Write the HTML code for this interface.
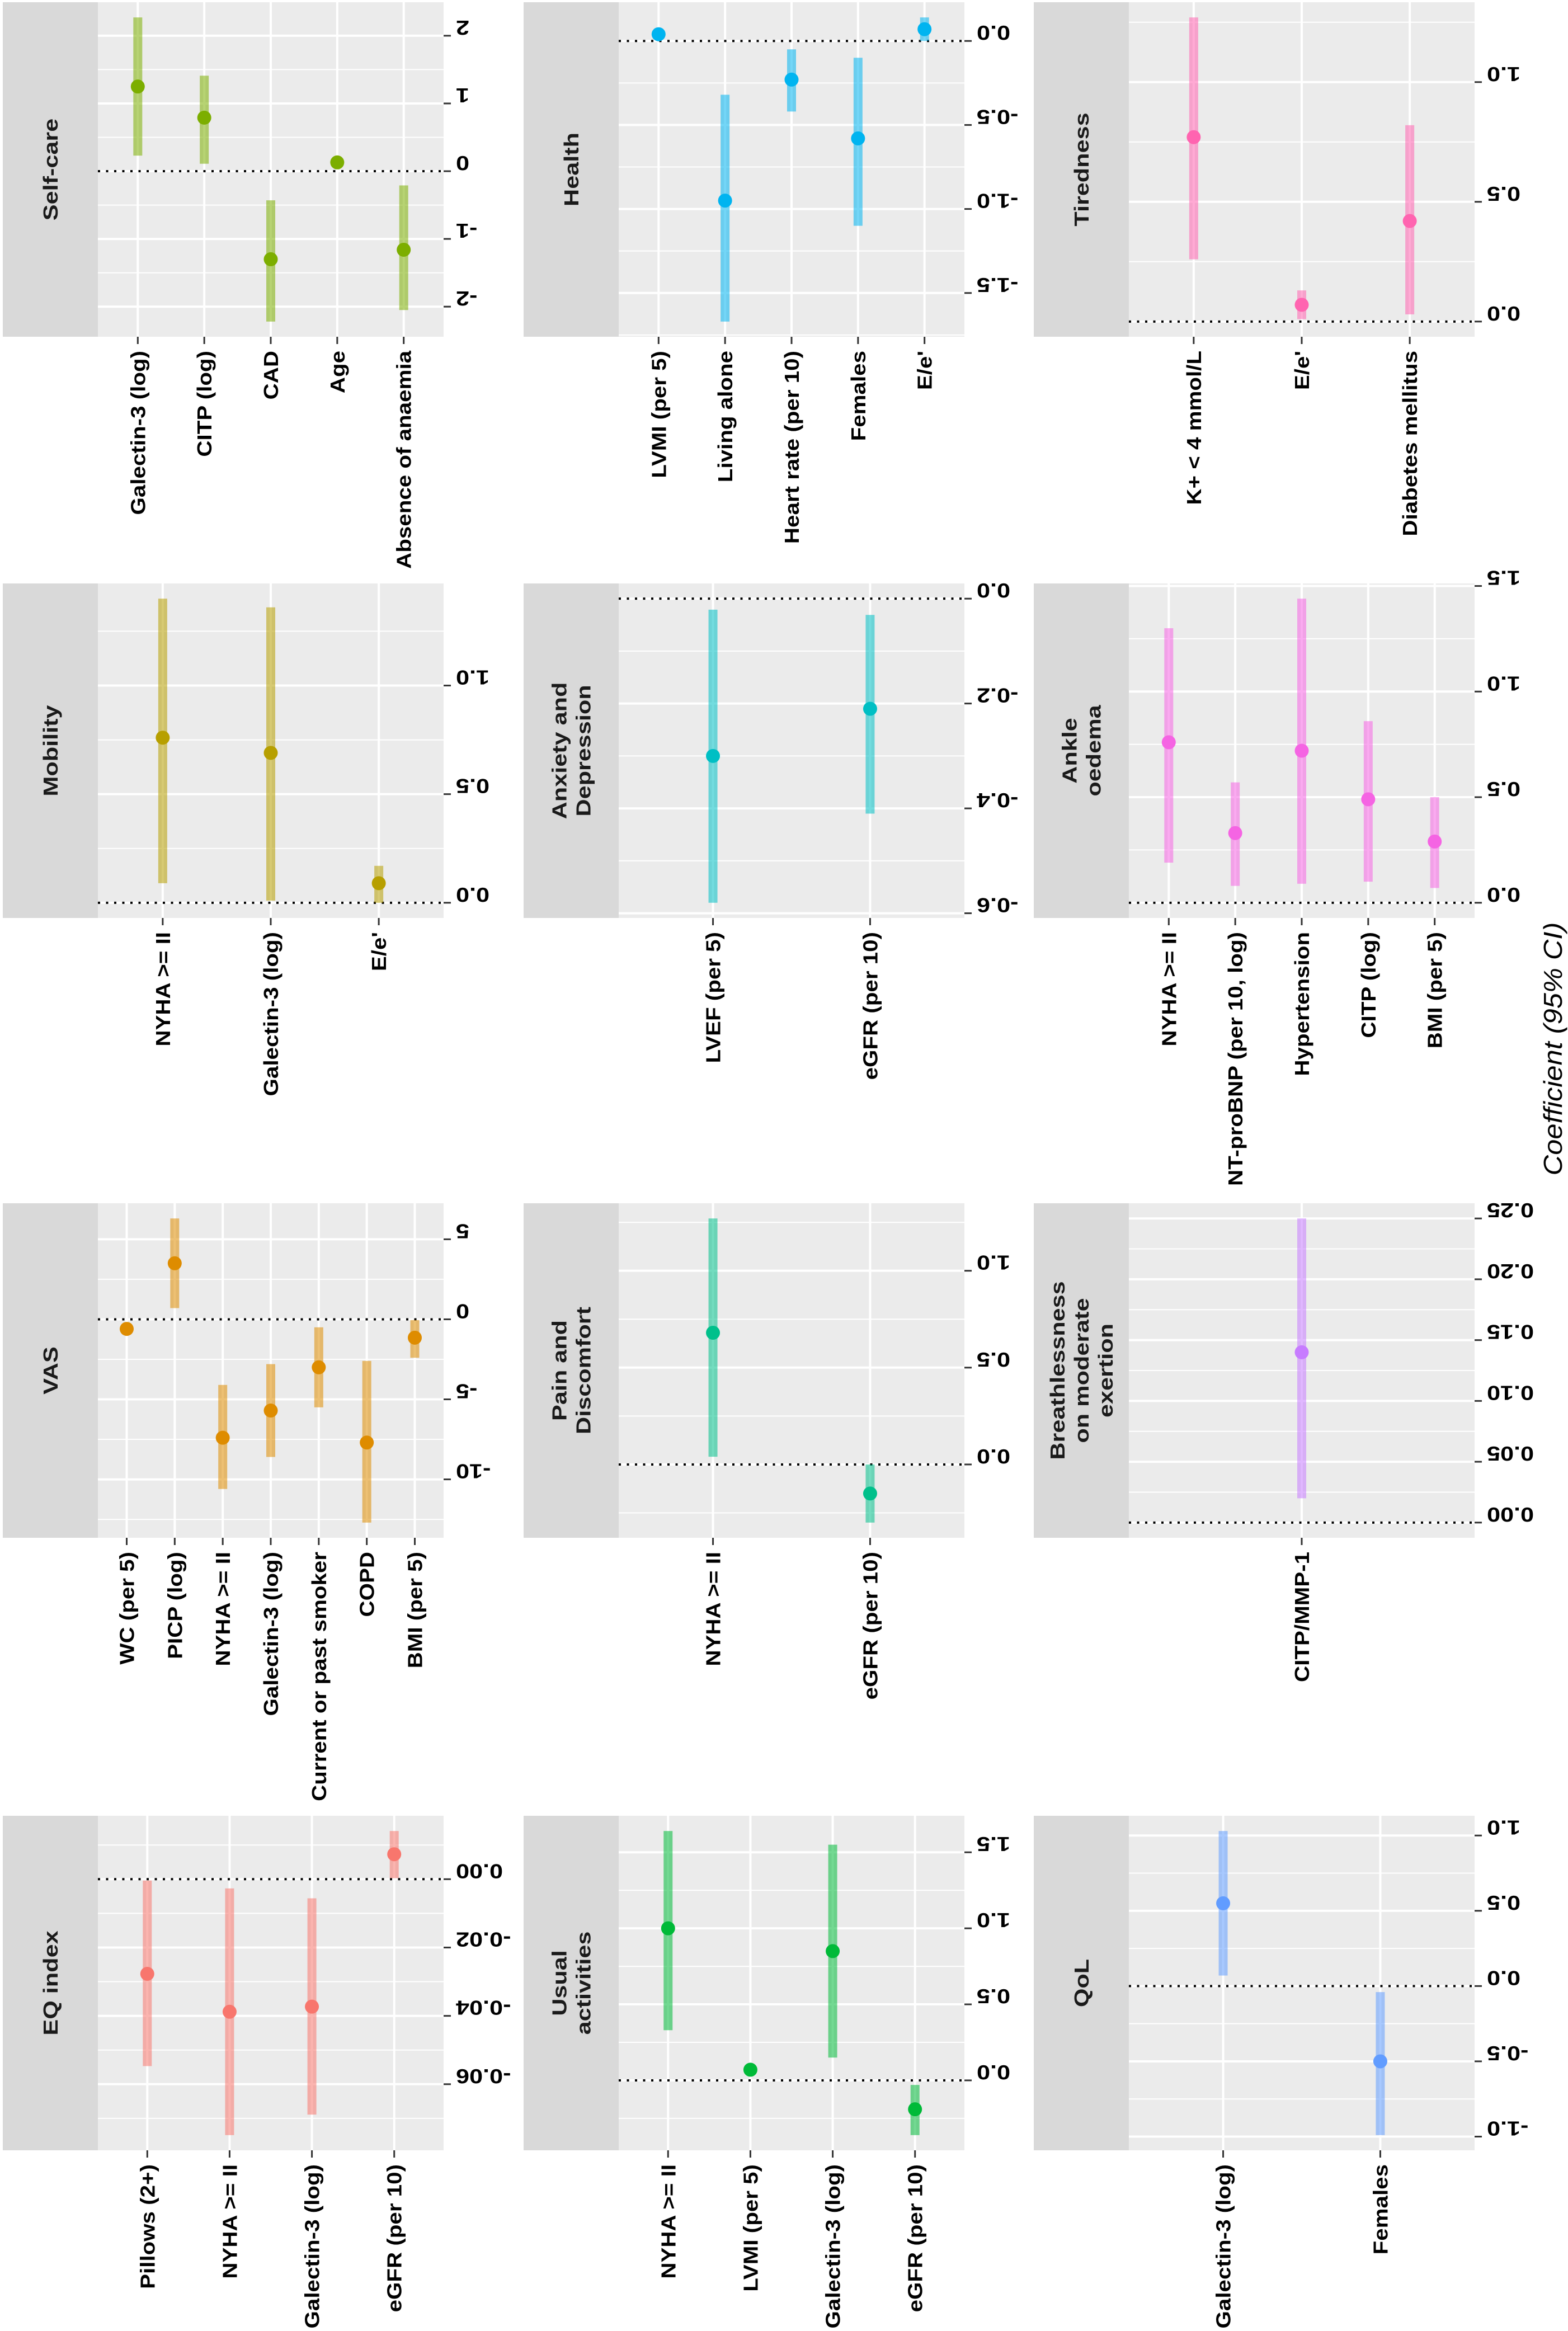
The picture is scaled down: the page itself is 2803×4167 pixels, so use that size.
<!DOCTYPE html>
<html><head><meta charset="utf-8"><title>Coefficient forest plots</title>
<style>
html,body{margin:0;padding:0;background:#fff;}
svg{display:block;}
text{font-family:"Liberation Sans",Arial,sans-serif;}
</style></head>
<body>
<svg id="chart" xmlns="http://www.w3.org/2000/svg" width="2803" height="4167" viewBox="0 0 2803 4167">
<rect x="0" y="0" width="2803" height="4167" fill="#ffffff"/>
<text x="0" y="0" transform="translate(2792 1875) rotate(-90) scale(1.1 1)" text-anchor="middle" font-size="46" font-style="italic" fill="#000">Coefficient (95% CI)</text>
</svg>
<script>
// ---- data arrays ----
const selfCareCats = ["Galectin-3 (log)","CITP (log)","CAD","Age","Absence of anaemia"];
const selfCareEst = [1.25, 0.79, -1.30, 0.13, -1.16];
const selfCareLo = [0.23, 0.11, -2.22, 0.10, -2.05];
const selfCareHi = [2.27, 1.41, -0.43, 0.16, -0.21];
const selfCareTicks = [-2, -1, 0, 1, 2];
const selfCareTickLabels = ["-2","-1","0","1","2"];

const healthCats = ["LVMI (per 5)","Living alone","Heart rate (per 10)","Females","E/e'"];
const healthEst = [0.04, -0.95, -0.23, -0.58, 0.07];
const healthLo = [0.02, -1.67, -0.42, -1.10, 0.0];
const healthHi = [0.06, -0.32, -0.05, -0.10, 0.14];
const healthTicks = [-1.5, -1.0, -0.5, 0.0];
const healthTickLabels = ["-1.5","-1.0","-0.5","0.0"];

const tirednessCats = ["K+ < 4 mmol/L","E/e'","Diabetes mellitus"];
const tirednessEst = [0.77, 0.07, 0.42];
const tirednessLo = [0.26, 0.01, 0.03];
const tirednessHi = [1.27, 0.13, 0.82];
const tirednessTicks = [0.0, 0.5, 1.0];
const tirednessTickLabels = ["0.0","0.5","1.0"];

const mobilityCats = ["NYHA >= II","Galectin-3 (log)","E/e'"];
const mobilityEst = [0.76, 0.69, 0.09];
const mobilityLo = [0.09, 0.01, 0.0];
const mobilityHi = [1.40, 1.36, 0.17];
const mobilityTicks = [0.0, 0.5, 1.0];
const mobilityTickLabels = ["0.0","0.5","1.0"];

const anxietyCats = ["LVEF (per 5)","eGFR (per 10)"];
const anxietyEst = [-0.30, -0.21];
const anxietyLo = [-0.58, -0.41];
const anxietyHi = [-0.021, -0.031];
const anxietyTicks = [-0.6, -0.4, -0.2, 0.0];
const anxietyTickLabels = ["-0.6","-0.4","-0.2","0.0"];

const ankleCats = ["NYHA >= II","NT-proBNP (per 10, log)","Hypertension","CITP (log)","BMI (per 5)"];
const ankleEst = [0.76, 0.33, 0.72, 0.49, 0.29];
const ankleLo = [0.19, 0.08, 0.09, 0.10, 0.07];
const ankleHi = [1.30, 0.57, 1.44, 0.86, 0.50];
const ankleTicks = [0.0, 0.5, 1.0, 1.5];
const ankleTickLabels = ["0.0","0.5","1.0","1.5"];

const vasCats = ["WC (per 5)","PICP (log)","NYHA >= II","Galectin-3 (log)","Current or past smoker","COPD","BMI (per 5)"];
const vasEst = [-0.6, 3.5, -7.4, -5.7, -3.0, -7.7, -1.15];
const vasLo = [-0.8, 0.7, -10.6, -8.6, -5.5, -12.7, -2.4];
const vasHi = [-0.4, 6.3, -4.1, -2.8, -0.5, -2.6, -0.05];
const vasTicks = [-10, -5, 0, 5];
const vasTickLabels = ["-10","-5","0","5"];

const painCats = ["NYHA >= II","eGFR (per 10)"];
const painEst = [0.68, -0.15];
const painLo = [0.04, -0.30];
const painHi = [1.27, 0.0];
const painTicks = [0.0, 0.5, 1.0];
const painTickLabels = ["0.0","0.5","1.0"];

const breathCats = ["CITP/MMP-1"];
const breathEst = [0.140];
const breathLo = [0.020];
const breathHi = [0.250];
const breathTicks = [0.00, 0.05, 0.10, 0.15, 0.20, 0.25];
const breathTickLabels = ["0.00","0.05","0.10","0.15","0.20","0.25"];

const eqCats = ["Pillows (2+)","NYHA >= II","Galectin-3 (log)","eGFR (per 10)"];
const eqEst = [-0.0277, -0.0388, -0.0373, 0.0073];
const eqLo = [-0.0547, -0.0749, -0.0689, 0.0003];
const eqHi = [-0.0004, -0.0027, -0.0056, 0.0141];
const eqTicks = [-0.06, -0.04, -0.02, 0.00];
const eqTickLabels = ["-0.06","-0.04","-0.02","0.00"];

const usualCats = ["NYHA >= II","LVMI (per 5)","Galectin-3 (log)","eGFR (per 10)"];
const usualEst = [1.00, 0.07, 0.85, -0.19];
const usualLo = [0.33, 0.05, 0.15, -0.36];
const usualHi = [1.64, 0.09, 1.55, -0.03];
const usualTicks = [0.0, 0.5, 1.0, 1.5];
const usualTickLabels = ["0.0","0.5","1.0","1.5"];

const qolCats = ["Galectin-3 (log)","Females"];
const qolEst = [0.55, -0.50];
const qolLo = [0.07, -0.99];
const qolHi = [1.03, -0.04];
const qolTicks = [-1.0, -0.5, 0.0, 0.5, 1.0];
const qolTickLabels = ["-1.0","-0.5","0.0","0.5","1.0"];

// ---- layout ----
const NS = "http://www.w3.org/2000/svg";
const svg = document.getElementById("chart");
const colX = [5, 936, 1848];
const rowY = [4, 1043, 2151, 3246];
const stripW = 170, panelW = 618, panelH = 598;
const FS = 36, STRETCH = 1.2, CAT_STRETCH = 1.12;

const panels = [
  {id:"self-care", title:["Self-care"], color:"#7CAE00", c:0, r:0, cats:selfCareCats, est:selfCareEst, lo:selfCareLo, hi:selfCareHi, ticks:selfCareTicks, tl:selfCareTickLabels},
  {id:"health", title:["Health"], color:"#00B4F0", c:1, r:0, cats:healthCats, est:healthEst, lo:healthLo, hi:healthHi, ticks:healthTicks, tl:healthTickLabels},
  {id:"tiredness", title:["Tiredness"], color:"#FF64B0", c:2, r:0, cats:tirednessCats, est:tirednessEst, lo:tirednessLo, hi:tirednessHi, ticks:tirednessTicks, tl:tirednessTickLabels},
  {id:"mobility", title:["Mobility"], color:"#B79F00", c:0, r:1, cats:mobilityCats, est:mobilityEst, lo:mobilityLo, hi:mobilityHi, ticks:mobilityTicks, tl:mobilityTickLabels},
  {id:"anxiety-depression", title:["Anxiety and","Depression"], color:"#00BFC4", c:1, r:1, cats:anxietyCats, est:anxietyEst, lo:anxietyLo, hi:anxietyHi, ticks:anxietyTicks, tl:anxietyTickLabels},
  {id:"ankle-oedema", title:["Ankle","oedema"], color:"#F564E3", c:2, r:1, cats:ankleCats, est:ankleEst, lo:ankleLo, hi:ankleHi, ticks:ankleTicks, tl:ankleTickLabels},
  {id:"vas", title:["VAS"], color:"#DE8C00", c:0, r:2, cats:vasCats, est:vasEst, lo:vasLo, hi:vasHi, ticks:vasTicks, tl:vasTickLabels},
  {id:"pain-discomfort", title:["Pain and","Discomfort"], color:"#00C08B", c:1, r:2, cats:painCats, est:painEst, lo:painLo, hi:painHi, ticks:painTicks, tl:painTickLabels},
  {id:"breathlessness", title:["Breathlessness","on moderate","exertion"], color:"#C77CFF", c:2, r:2, cats:breathCats, est:breathEst, lo:breathLo, hi:breathHi, ticks:breathTicks, tl:breathTickLabels},
  {id:"eq-index", title:["EQ index"], color:"#F8766D", c:0, r:3, cats:eqCats, est:eqEst, lo:eqLo, hi:eqHi, ticks:eqTicks, tl:eqTickLabels},
  {id:"usual-activities", title:["Usual","activities"], color:"#00BA38", c:1, r:3, cats:usualCats, est:usualEst, lo:usualLo, hi:usualHi, ticks:usualTicks, tl:usualTickLabels},
  {id:"qol", title:["QoL"], color:"#619CFF", c:2, r:3, cats:qolCats, est:qolEst, lo:qolLo, hi:qolHi, ticks:qolTicks, tl:qolTickLabels}
];

function mk(tag, attrs, parent){
  const el = document.createElementNS(NS, tag);
  for (const k in attrs) el.setAttribute(k, attrs[k]);
  (parent || svg).appendChild(el);
  return el;
}

panels.forEach(p => {
  const sx = colX[p.c], top = rowY[p.r];
  const px = sx + stripW, bottom = top + panelH, right = px + panelW;
  const g = mk("g", {});
  
  

  let dmin = Math.min(0, ...p.lo), dmax = Math.max(0, ...p.hi);
  const span = dmax - dmin;
  dmin -= span * 0.05; dmax += span * 0.05;
  const yS = v => top + (dmax - v) / (dmax - dmin) * panelH;
  const n = p.cats.length;
  const step = panelW / (n - 1 + 1.2);
  const xS = i => px + step * (0.6 + i);

  const strip = mk("rect", {x:sx, y:top, width:stripW, height:panelH, fill:"#D9D9D9"}, g);
  
  
  const cx = sx + stripW / 2, cy = top + panelH / 2;
  p.title.forEach((line, i) => {
    const tx = cx + 13 + (i - (p.title.length - 1) / 2) * 43;
    const t = mk("text", {x:0, y:0, transform:`translate(${tx} ${cy}) rotate(-90) scale(${STRETCH} 1)`, "text-anchor":"middle", "font-size":FS, "font-weight":"bold", fill:"#1A1A1A"}, g);
    t.textContent = line;
    
    
  });

  const bg = mk("rect", {x:px, y:top, width:panelW, height:panelH, fill:"#EBEBEB"}, g);
  
  

  const tstep = p.ticks[1] - p.ticks[0];
  const minors = [];
  for (let i = -1; i < p.ticks.length; i++) {
    const m = p.ticks[0] + tstep * (i + 0.5);
    if (m > dmin && m < dmax) minors.push(m);
  }
  minors.forEach(m => {
    const l = mk("line", {x1:px, x2:right, y1:yS(m), y2:yS(m), stroke:"#fff", "stroke-width":2}, g);
    
    
  });
  p.ticks.forEach((t, i) => {
    const y = yS(t);
    const l = mk("line", {x1:px, x2:right, y1:y, y2:y, stroke:"#fff", "stroke-width":4}, g);
    
    
    const tk = mk("line", {x1:right, x2:right + 13, y1:y, y2:y, stroke:"#333", "stroke-width":3}, g);
    
    
    const lx = right + 22, ly = y - 27;
    const tl = mk("text", {x:0, y:0, transform:`translate(${lx} ${ly}) rotate(180) scale(${STRETCH} 1)`, "text-anchor":"end", "font-size":FS, "font-weight":"bold", fill:"#000"}, g);
    tl.textContent = p.tl[i];
    
    
  });
  p.cats.forEach((c, i) => {
    const x = xS(i);
    const l = mk("line", {x1:x, x2:x, y1:top, y2:bottom, stroke:"#fff", "stroke-width":4}, g);
    
    
    const tk = mk("line", {x1:x, x2:x, y1:bottom, y2:bottom + 13, stroke:"#333", "stroke-width":3}, g);
    
    
    const lx = x + 13, ly = bottom + 25;
    const t = mk("text", {x:0, y:0, transform:`translate(${lx} ${ly}) rotate(-90) scale(${CAT_STRETCH} 1)`, "text-anchor":"end", "font-size":FS, "font-weight":"bold", fill:"#000"}, g);
    t.textContent = c;
    
    
  });
  const z = mk("line", {x1:px, x2:right, y1:yS(0), y2:yS(0), stroke:"#000", "stroke-width":4, "stroke-dasharray":"4 10.5"}, g);
  
  
  p.cats.forEach((c, i) => {
    const x = xS(i);
    const y1 = yS(p.hi[i]), y2 = yS(p.lo[i]);
    const ci = mk("rect", {x:x - 8, y:y1, width:16, height:Math.max(1, y2 - y1), fill:p.color, "fill-opacity":0.55}, g);
    
    
    const dot = mk("circle", {cx:x, cy:yS(p.est[i]), r:12.5, fill:p.color}, g);
    
    
  });
});
</script>
</body></html>
